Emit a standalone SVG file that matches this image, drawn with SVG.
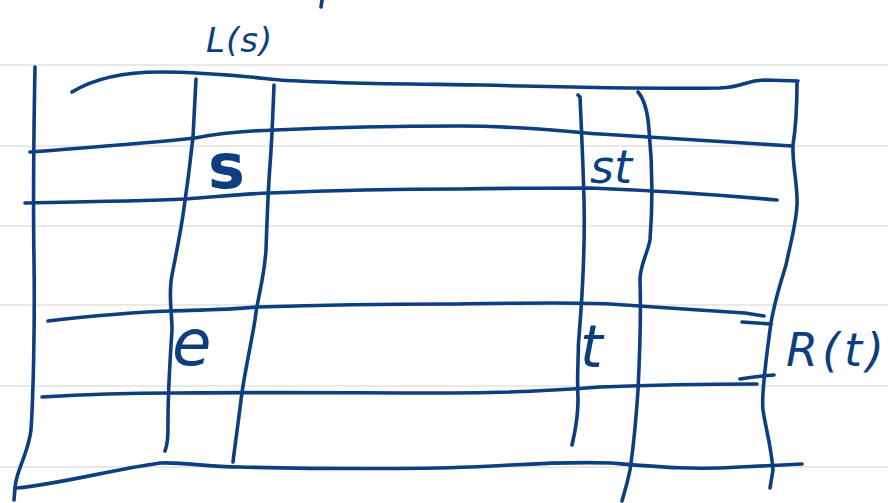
<svg xmlns="http://www.w3.org/2000/svg" width="888" height="503" viewBox="0 0 888 503">
  <style>
    .rule { stroke: #e9e9e9; stroke-width: 2; fill: none; }
    .ink { stroke: #0d3f80; stroke-width: 3.6; fill: none; stroke-linecap: round; stroke-linejoin: round; }
    .hand { fill: #0d3f80; font-family: "DejaVu Sans", "Liberation Sans", sans-serif; font-style: italic; }
    .upright { font-style: normal; font-weight: bold; }
  </style>
  <rect width="888" height="503" fill="#ffffff"/>

  <!-- ruled paper -->
  <g id="paper">
    <line class="rule" x1="0" y1="65" x2="888" y2="65"/>
    <line class="rule" x1="0" y1="146" x2="888" y2="146"/>
    <line class="rule" x1="0" y1="226" x2="888" y2="226"/>
    <line class="rule" x1="0" y1="305" x2="888" y2="305"/>
    <line class="rule" x1="0" y1="386" x2="888" y2="386"/>
    <line class="rule" x1="0" y1="467" x2="888" y2="467"/>
  </g>

  <!-- table strokes -->
  <g id="connectors">
    <!-- stray stroke at top -->
    <path class="ink" d="M322 0 L321 7"/>
    <!-- outer frame -->
    <path class="ink" d="M35 67 C34 120 33 200 34 260 C35 330 33 400 31 430 C28 455 16 470 15 488 L14 500"/>
    <path class="ink" d="M72 92 C95 78 125 72 160 72 C210 72 250 77 280 80 C340 84 420 84 480 85 C560 87 640 89 720 88 C745 87 745 80 765 80 L798 81"/>
    <path class="ink" d="M797 82 C797 100 797 120 793 145 C792 165 798 185 797 205 C796 225 790 245 786 265 C780 285 773 305 770 330 C766 360 761 395 763 410 C766 430 771 445 773 470 L770 488"/>
    <path class="ink" d="M17 488 C60 484 110 470 160 463 C185 462 205 467 240 467 C320 469 420 469 470 467 C520 465 560 461 610 463 C660 467 690 470 740 467 L802 464"/>
    <!-- rows -->
    <path class="ink" d="M30 152 C80 148 150 143 195 138 C215 134 240 131 275 130 C340 127 400 126 460 126 C520 126 560 131 600 134 C660 138 720 142 792 146"/>
    <path class="ink" d="M25 203 C80 202 140 201 185 199 C215 197 240 194 270 193 C340 190 400 189 460 189 C520 188 560 188 590 188 C640 190 700 193 777 200"/>
    <path class="ink" d="M48 321 C90 316 140 312 170 311 C200 310 225 310 258 307 C320 305 390 304 450 304 C520 303 570 302 610 304 C650 307 700 310 745 313 L764 316"/>
    <path class="ink" d="M742 322 L771 324"/>
    <path class="ink" d="M42 397 C90 394 140 393 175 393 C260 392 360 393 450 393 C500 393 560 390 600 387 C650 385 700 384 757 384"/>
    <path class="ink" d="M740 379 C752 377 760 376 774 375"/>
    <!-- columns -->
    <path class="ink" d="M196 79 C195 100 194 120 193 137 C190 165 186 195 183 215 C180 235 176 255 172 275 C168 295 172 310 172 330 C170 360 168 390 168 420 C168 435 168 443 165 451"/>
    <path class="ink" d="M274 85 C273 110 272 140 270 165 C268 190 267 220 266 250 C264 280 257 300 255 320 C250 350 244 375 241 400 C238 425 235 445 233 462"/>
    <path class="ink" d="M578 95 L580 97 C581 120 583 160 584 200 C585 240 583 280 581 310 C578 340 577 370 578 400 C578 420 575 432 572 445"/>
    <path class="ink" d="M638 92 C645 100 648 115 649 130 C652 160 653 200 650 240 C647 255 640 265 640 280 C641 310 640 350 638 390 C636 420 633 450 630 470 C627 485 624 494 622 501"/>
  </g>

  <g id="label-ls">
    <text class="hand" x="206" y="52" font-size="34" letter-spacing="1">L(s)</text>
  </g>
  <g id="cell-s">
    <text class="hand upright" x="208" y="188" font-size="62">s</text>
  </g>
  <g id="cell-st">
    <text class="hand" x="590" y="183" font-size="46">st</text>
  </g>
  <g id="cell-e">
    <text class="hand" x="172" y="365" font-size="64">e</text>
  </g>
  <g id="cell-t">
    <text class="hand" x="580" y="367" font-size="58">t</text>
  </g>
  <g id="label-rt">
    <text class="hand" x="786" y="366" font-size="46" letter-spacing="4">R(t)</text>
  </g>
</svg>
